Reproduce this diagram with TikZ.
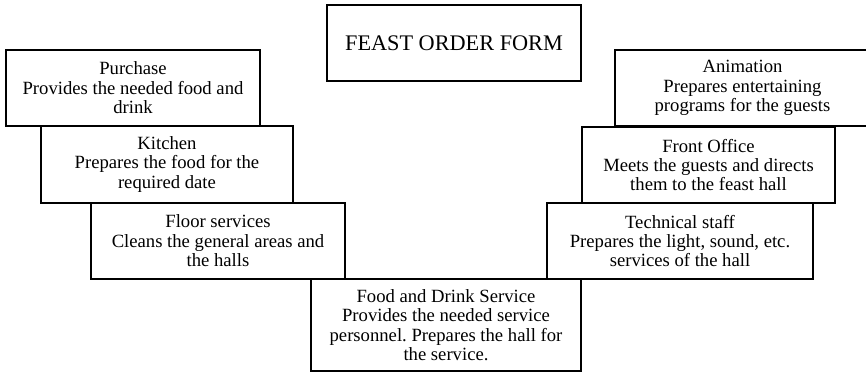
\documentclass[tikz,border=0pt]{standalone}
\usepackage{fontspec}
\setmainfont{Liberation Serif}
\usepackage{tikz}
\frenchspacing

\tikzset{
  dept/.style={draw, line width=0.8pt, inner sep=0pt, outer sep=0pt,
    minimum width=190.5pt, minimum height=57pt, align=center,
    font=\fontsize{14}{14.6}\selectfont},
}

\begin{document}
\begin{tikzpicture}[x=0.75pt,y=0.75pt,yscale=-1,xscale=1]
   \useasboundingbox (0,0) rectangle (866,372);

   % Title
   \node [dept, font=\fontsize{16.7}{18}\selectfont] (title) at (454,43) {FEAST ORDER FORM};

   % Left side
   \node [dept] (purchase) at (133,88) {Purchase\\Provides the needed food and\\drink};
   \node [dept, minimum width=189pt, minimum height=57.75pt] (kitchen) at (167,164.5) {Kitchen\\Prepares the food for the\\required date};
   \node [dept] (floor) at (218,241) {Floor services\\Cleans the general areas and\\the halls};

   % Bottom
   \node [dept, minimum width=202.5pt, minimum height=69pt] (food) at (446,325) {Food and Drink Service\\Provides the needed service\\personnel. Prepares the hall for\\the service.};

   % Right side
   \node [dept, minimum width=199.5pt] (technical) at (680,241) {Technical staff\\Prepares the light, sound, etc.\\services of the hall};
   \node [dept, minimum width=189.75pt] (frontoffice) at (708.5,165) {Front Office\\Meets the guests and directs\\them to the feast hall};
   \node [dept, minimum width=191.25pt] (animation) at (742.5,88) {Animation\\Prepares entertaining\\programs for the guests};

\end{tikzpicture}
\end{document}
